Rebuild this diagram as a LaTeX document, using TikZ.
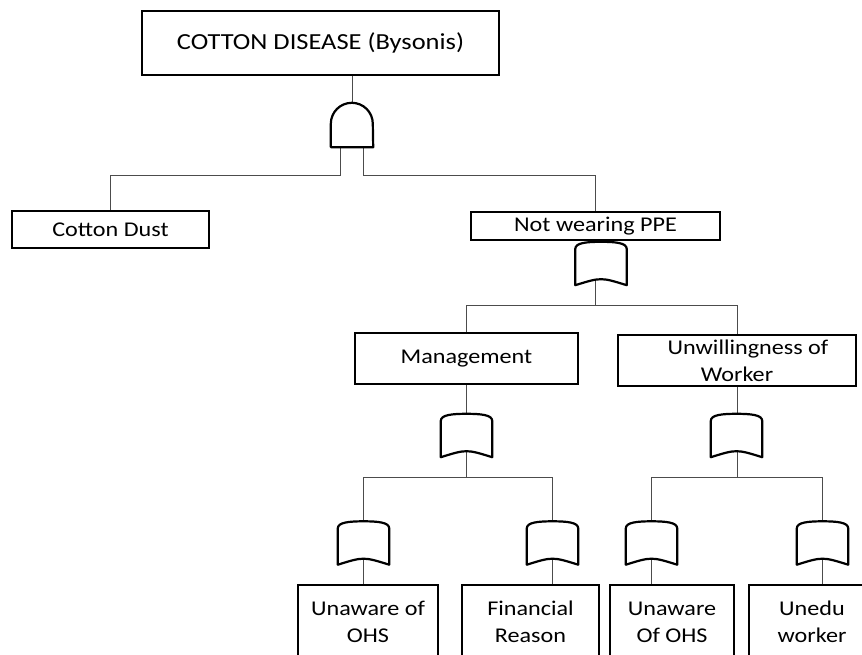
\documentclass[tikz,border=0pt]{standalone}
\usepackage{fontspec}
\setmainfont{Carlito}[FakeStretch=1.15]
\usetikzlibrary{calc}

\newcommand{\andshape}[1]{%
  \filldraw[gateline] (#1.south west) -- ([yshift=-21pt]#1.north west)
    arc[start angle=180,end angle=0,radius=21pt] -- (#1.south east) -- cycle;}
\newcommand{\orshape}[1]{%
  \filldraw[gateline] (#1.south west) -- ([yshift=-7pt]#1.north west)
    .. controls ([yshift=-1pt]#1.north west) and ([xshift=-14pt]#1.north) .. (#1.north)
    .. controls ([xshift=14pt]#1.north) and ([yshift=-1pt]#1.north east) .. ([yshift=-7pt]#1.north east)
    -- (#1.south east) .. controls ([yshift=8pt]#1.south) .. (#1.south west) -- cycle;}

\tikzset{
  event/.style={draw, line width=1.6pt, fill=white, inner sep=0pt,
    align=center, font=\fontsize{21}{27}\selectfont},
  gatenode/.style={inner sep=0pt, minimum width=51pt, minimum height=43pt},
  gateline/.style={line width=2.2pt, line join=round, fill=white},
  link/.style={draw=black!70, line width=0.9pt},
}

\begin{document}
\begin{tikzpicture}[x=1pt,y=-1pt]
  \clip (0,0) rectangle (862,655);
  % events
  \node[event, minimum width=357pt, minimum height=64pt,
    font=\fontsize{23}{28}\selectfont] (top) at (320.5,43) {COTTON DISEASE (Bysonis)};
  \node[event, minimum width=197pt, minimum height=37pt] (dust) at (110.5,229.5) {Cotton Dust};
  \node[event, minimum width=249pt, minimum height=28pt] (ppe) at (595.5,226) {Not wearing PPE};
  \node[event, minimum width=223pt, minimum height=51pt] (mgmt) at (466.5,358.5) {Management};
  \node[event, minimum width=238pt, minimum height=51pt] (unw) at (737,360.5)
    {\hspace*{22pt}Unwillingness of\\Worker};
  \node[event, minimum width=140pt, minimum height=74pt] (ohs) at (368,622) {Unaware of\\OHS};
  \node[event, minimum width=137pt, minimum height=74pt] (fin) at (530.5,622) {Financial\\Reason};
  \node[event, minimum width=124pt, minimum height=74pt] (ohsw) at (672,622) {Unaware\\Of OHS};
  \node[event, minimum width=126pt, minimum height=74pt] (unedu) at (812,622) {Unedu\\worker};
  % gates
  \node[gatenode, minimum width=42pt, minimum height=44pt] (andg) at (352,125) {};
  \node[gatenode] (orppe) at (601,263.5) {};
  \node[gatenode] (orm) at (466.5,435.5) {};
  \node[gatenode] (oru) at (736.5,435.5) {};
  \node[gatenode] (or1) at (363.5,543) {};
  \node[gatenode] (or2) at (552.5,543) {};
  \node[gatenode] (or3) at (651.5,543) {};
  \node[gatenode] (or4) at (822.5,543) {};
  % connectors
  \draw[link] (andg.north |- top.south) -- (andg.north);
  \draw[link] ([xshift=-12pt]andg.south) -- ++(0,28) -| (dust.north);
  \draw[link] ([xshift=11pt]andg.south) -- ++(0,28) -| (ppe.north);
  \draw[link] (ppe.south) -- ++(0,65) coordinate (jp);
  \draw[link] (mgmt.north) |- (jp) -| (unw.north);
  \draw[link] (mgmt.south) -- ++(0,93) coordinate (jm);
  \draw[link] (or1.center) |- (jm) -| (or2.center);
  \draw[link] (unw.south) -- ++(0,91) coordinate (ju);
  \draw[link] (or3.center) |- (ju) -| (or4.center);
  \foreach \g/\e in {or1/ohs,or2/fin,or3/ohsw,or4/unedu}
    \draw[link] (\g.center) -- (\g.center |- \e.north);
  % gate symbols
  \andshape{andg}
  \foreach \g in {orppe,orm,oru,or1,or2,or3,or4}
    {\orshape{\g}}
\end{tikzpicture}
\end{document}
